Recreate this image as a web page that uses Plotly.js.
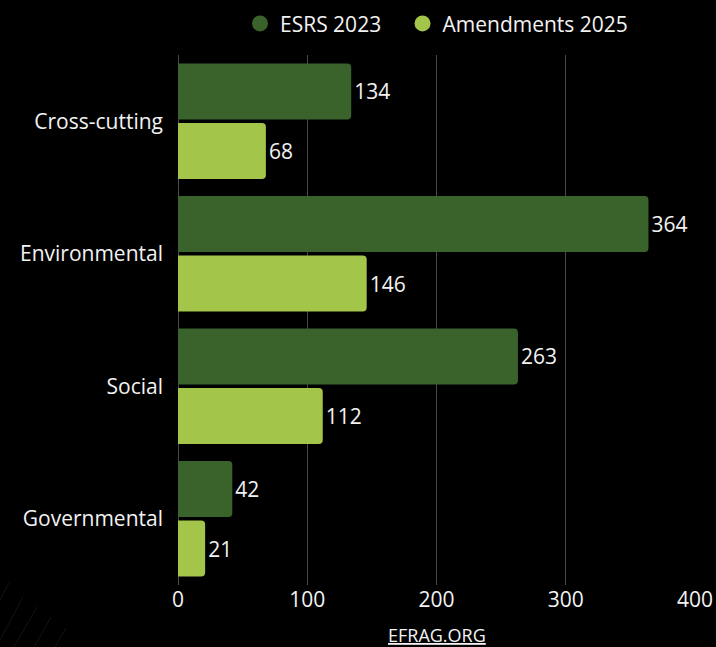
<!DOCTYPE html>
<html>
<head>
<meta charset="utf-8">
<script src="https://cdn.plot.ly/plotly-3.0.1.min.js"></script>
<style>html,body{margin:0;padding:0;background:#000;}#chart{width:716px;height:647px;}</style>
</head>
<body>
<div id="chart"></div>
<script>
const categories = ['Cross-cutting', 'Environmental', 'Social', 'Governmental'];
const esrs2023 = [134, 364, 263, 42];
const amendments2025 = [68, 146, 112, 21];
const seriesNames = ['ESRS 2023', 'Amendments 2025'];
const xTicks = [0, 100, 200, 300, 400];

const DARK = '#3a632c';
const LIGHT = '#a3c64a';
const FONT = 'Open Sans, sans-serif';
const FS = 21;

const traces = [
  {
    type: 'bar', orientation: 'h', y: categories, x: esrs2023, name: seriesNames[0],
    marker: {color: DARK, cornerradius: 4}, text: esrs2023.map(String), textposition: 'outside',
    textfont: {color: '#f2f2f2', size: FS, family: FONT}, cliponaxis: false, showlegend: false, hoverinfo: 'x+y'
  },
  {
    type: 'bar', orientation: 'h', y: categories, x: amendments2025, name: seriesNames[1],
    marker: {color: LIGHT, cornerradius: 4}, text: amendments2025.map(String), textposition: 'outside',
    textfont: {color: '#f2f2f2', size: FS, family: FONT}, cliponaxis: false, showlegend: false, hoverinfo: 'x+y'
  },
  {type: 'scatter', mode: 'markers', x: [null], y: [null], name: seriesNames[0] + '\u00a0\u00a0\u00a0', marker: {color: DARK, size: 20, symbol: 'circle'}, showlegend: true},
  {type: 'scatter', mode: 'markers', x: [null], y: [null], name: seriesNames[1], marker: {color: LIGHT, size: 20, symbol: 'circle'}, showlegend: true}
];

const deco = [[0,600,9,583],[0,640,23,597],[14,647,37,607],[34,647,51,617],[55,647,66,628]];
const shapes = deco.map(d => ({
  type: 'line', xref: 'paper', yref: 'paper',
  x0: (d[0]-178)/517, x1: (d[2]-178)/517,
  y0: (585-d[1])/530, y1: (585-d[3])/530,
  line: {color: '#141414', width: 1}
}));

const layout = {
  width: 716, height: 647,
  paper_bgcolor: '#000', plot_bgcolor: '#000',
  font: {family: FONT, color: '#f2f2f2', size: FS},
  margin: {l: 178, r: 21, t: 55, b: 62, pad: 0},
  barmode: 'group', bargap: 0.1, bargroupgap: 0.06,
  showlegend: true,
  legend: {orientation: 'h', x: 0.5, xanchor: 'center', yref: 'container', y: 0.995, yanchor: 'top',
           font: {size: FS, color: '#f2f2f2', family: FONT}, bgcolor: 'rgba(0,0,0,0)', itemsizing: 'trace'},
  xaxis: {range: [0, 400], tickvals: xTicks, ticktext: xTicks.map(String), showgrid: true, gridcolor: '#4a4a4a', gridwidth: 1,
          zeroline: true, zerolinecolor: '#4a4a4a', zerolinewidth: 1, showline: false, ticks: '',
          tickfont: {size: FS, color: '#f2f2f2'}, fixedrange: true},
  yaxis: {autorange: 'reversed', showgrid: false, zeroline: false, showline: false, ticks: '', ticklabelstandoff: 14,
          tickfont: {size: FS, color: '#f2f2f2'}, fixedrange: true},
  annotations: [{
    text: '<u>EFRAG.ORG</u>', xref: 'paper', yref: 'paper', x: 0.5, y: -0.094, xanchor: 'center', yanchor: 'middle',
    showarrow: false, font: {size: 18, color: '#f2f2f2', family: FONT}
  }],
  shapes: shapes
};

Plotly.newPlot('chart', traces, layout, {displayModeBar: false, staticPlot: true});
</script>
</body>
</html>
